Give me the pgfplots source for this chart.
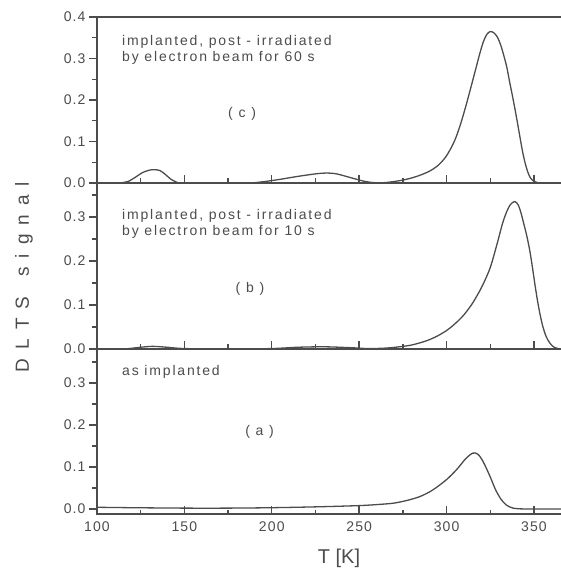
\documentclass[border=0pt]{standalone}
\usepackage{pgfplots}
\pgfplotsset{compat=1.18}
\usepackage{fontspec}
\setmainfont{Liberation Sans}
\newfontfamily\annfont[LetterSpace=13]{Liberation Sans}
\definecolor{ink}{gray}{0.3}
\tikzset{ann/.style={font=\annfont\fontsize{14}{16}\selectfont, text=ink, align=left, inner sep=0pt}}
\begin{document}
\begin{tikzpicture}[x=1pt,y=1pt]
\pgfplotsset{
  panel/.style={
    scale only axis, width=466.7pt,
    xmin=100, xmax=367,
    xtick={100,150,200,250,300,350}, minor xtick={125,175,225,275,325},
    xtick pos=bottom, ytick pos=left,
    xtick align=inside, ytick align=outside,
    major tick length=8pt, minor tick length=4.5pt,
    axis line style={ink, line width=1.6pt},
    every tick/.style={ink, line width=1.4pt},
    ytick={0,0.1,0.2,0.3,0.4}, minor ytick={0.05,0.15,0.25,0.35},
    yticklabel style={/pgf/number format/.cd,fixed,fixed zerofill,precision=1,assume math mode=true},
    xticklabel style={/pgf/number format/assume math mode=true, yshift=-4pt},
    ticklabel style={font=\fontsize{14}{16}\selectfont\addfontfeature{LetterSpace=8}, text=ink},
    clip=true,
  },
  curve/.style={ink, line width=1.3pt, smooth, no marks},
}
% panel (c)
\begin{axis}[panel, at={(0pt,331pt)}, anchor=south west, height=166pt, ymin=0, ymax=0.4, xticklabels={}]
\addplot[curve] coordinates {
(100,0) (110,0) (115,0.001) (118,0.004) (122,0.014) (126,0.025) (130,0.031) (133,0.032) (136,0.03) (139,0.021) (142,0.01) (145,0.003) (148,0) (160,0) (175,-0.001) (185,-0.001) (195,0.003) (205,0.009) (215,0.016) (225,0.022) (231,0.024) (237,0.022) (245,0.013) (252,0.005) (258,0.001) (265,0.001) (275,0.007) (283,0.016) (290,0.028) (295,0.042) (299,0.06) (302,0.08) (305,0.106) (308,0.142) (311,0.185) (314,0.232) (317,0.28) (319,0.312) (321,0.34) (323,0.358) (325,0.365) (327,0.362) (329,0.352) (331,0.332) (333,0.303) (334.5,0.278) (336,0.245) (338,0.203) (340,0.158) (342,0.11) (343.5,0.075) (345,0.047) (346.5,0.026) (348,0.012) (350,0.004) (352,0.001) (355,0) (367,0)
};
\node[ann, anchor=north west] at (axis cs:114.3,0.356) {implanted, post - irradiated\\by electron beam for 60 s};
\node[ann] at (axis cs:183,0.166) {( c )};
\end{axis}
% panel (b)
\begin{axis}[panel, at={(0pt,165pt)}, anchor=south west, height=166pt, ymin=0, ymax=0.377, xticklabels={}]
\addplot[curve] coordinates {
(100,0) (115,0) (125,0.004) (132,0.006) (140,0.004) (150,0.001) (175,0) (200,0.001) (215,0.004) (230,0.005) (245,0.003) (255,0.001) (265,0.002) (273,0.005) (280,0.009) (288,0.018) (294,0.028) (300,0.042) (305,0.058) (310,0.078) (315,0.105) (320,0.14) (324.8,0.183) (328.7,0.236) (332,0.285) (334.4,0.312) (336.5,0.328) (339,0.335) (341,0.327) (342.5,0.31) (344,0.287) (346,0.255) (347.7,0.221) (349.2,0.183) (350.6,0.145) (352,0.11) (353.5,0.078) (355,0.052) (356.5,0.033) (358,0.02) (360,0.009) (362,0.003) (364,0.001) (367,0)
};
\node[ann, anchor=north west] at (axis cs:114.3,0.318) {implanted, post - irradiated\\by electron beam for 10 s};
\node[ann] at (axis cs:187.5,0.136) {( b )};
\end{axis}
% panel (a)
\begin{axis}[panel, at={(0pt,0pt)}, anchor=south west, height=165pt, ymin=-0.012, ymax=0.381]
\addplot[curve] coordinates {
(100,0.004) (120,0.003) (150,0.002) (175,0.002) (200,0.003) (225,0.005) (250,0.008) (262,0.011) (270,0.014) (278,0.021) (285,0.03) (292,0.045) (300,0.07) (306,0.095) (311,0.12) (315,0.133) (318,0.13) (321,0.112) (325,0.076) (328,0.046) (331,0.024) (334,0.01) (338,0.002) (345,0) (367,0)
};
\node[ann, anchor=north west] at (axis cs:114.3,0.343) {as implanted};
\node[ann] at (axis cs:193,0.183) {( a )};
\end{axis}
\node[rotate=90, text=ink, font=\fontsize{19}{21}\selectfont] at (-73pt,237pt)
  {D\hspace{9pt}L\hspace{9pt}T\hspace{9pt}S\hspace{20pt}s\hspace{9pt}i\hspace{9pt}g\hspace{9pt}n\hspace{9pt}a\hspace{9pt}l};
\node[text=ink, font=\fontsize{20}{22}\selectfont] at (242pt,-44pt) {T [K]};
\pgfresetboundingbox
\useasboundingbox (-97pt,-54pt) rectangle (463pt,514pt);
\end{tikzpicture}
\end{document}
